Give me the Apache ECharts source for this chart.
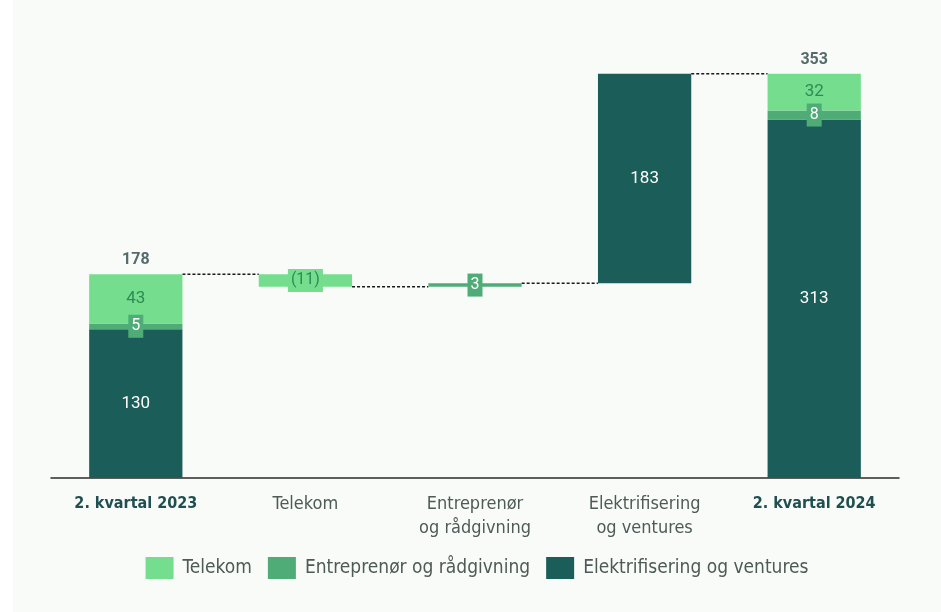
<!DOCTYPE html>
<html>
<head>
<meta charset="utf-8">
<script src="https://cdn.jsdelivr.net/npm/echarts@6/dist/echarts.min.js"></script>
<style>
  html, body { margin: 0; padding: 0; background: #ffffff; }
  #chart { position: absolute; left: 13px; top: 0; width: 928px; height: 612px; background: #f9fbf9; }
</style>
</head>
<body>
<div id="chart"></div>
<script>
const categories = ['2. kvartal 2023', 'Telekom', 'Entreprenør\nog rådgivning', 'Elektrifisering\nog ventures', '2. kvartal 2024'];
const segmentNames = ['Elektrifisering og ventures', 'Entreprenør og rådgivning', 'Telekom'];
// segment values for start and end bars: [elektrifisering, entreprenør, telekom]
const start2023 = [130, 5, 43];
const end2024 = [313, 8, 32];
// changes by segment between the two quarters
const changeTelekom = -11;
const changeEntreprenor = 3;
const changeElektro = 183;

const colDark = '#1b5d59';
const colMid = '#4fac77';
const colLight = '#74de8e';
const font = '"Liberation Sans Narrow", "DejaVu Sans Condensed", sans-serif';
const numFont = 'Roboto, sans-serif';

const total2023 = start2023.reduce((a, b) => a + b, 0);
const total2024 = end2024.reduce((a, b) => a + b, 0);
const lvl1 = total2023 + changeTelekom;
const lvl2 = lvl1 + changeEntreprenor;
const lvl3 = lvl2 + changeElektro;

const base = [0, Math.min(total2023, lvl1), Math.min(lvl1, lvl2), Math.min(lvl2, lvl3), 0];
const darkData = [start2023[0], '-', '-', Math.abs(changeElektro), end2024[0]];
const midData = [start2023[1], '-', Math.abs(changeEntreprenor), '-', end2024[1]];
const lightData = [start2023[2], Math.abs(changeTelekom), '-', '-', end2024[2]];
const connectorLevels = [total2023, lvl1, lvl2, lvl3];

const fmt = v => v < 0 ? '(' + Math.abs(v) + ')' : String(v);
const boxLabel = (bg, color) => ({
  show: true, position: 'inside', backgroundColor: bg, color: color,
  padding: [4, 3, 3, 3], fontSize: 16, fontFamily: numFont
});

const chart = echarts.init(document.getElementById('chart'));
const barW = '55%';

chart.setOption({
  animation: false,
  grid: { left: 38, right: 42, top: 20, bottom: 134 },
  legend: {
    bottom: 28, left: 'center',
    itemWidth: 28, itemHeight: 22, itemGap: 16,
    data: ['Telekom', 'Entreprenør og rådgivning', 'Elektrifisering og ventures'],
    textStyle: { fontFamily: font, fontSize: 19, color: '#4e5a57', padding: [0, 0, 0, 4] },
    icon: 'rect'
  },
  xAxis: {
    type: 'category', data: categories,
    axisLine: { lineStyle: { color: '#2b2b2b', width: 1.5 } },
    axisTick: { show: false },
    axisLabel: {
      interval: 0, margin: 14, fontFamily: font, fontSize: 18, lineHeight: 24, color: '#4e5a57',
      formatter: (v, i) => (i === 0 || i === 4) ? '{b|' + v + '}' : v,
      rich: { b: { fontFamily: font, fontSize: 16, fontWeight: 'bold', color: '#1f4f4e' } }
    }
  },
  yAxis: { type: 'value', min: 0, max: 400, show: false, splitLine: { show: false } },
  series: [
    {
      type: 'bar', stack: 'w', barWidth: barW, data: base,
      itemStyle: { color: 'transparent' }, silent: true
    },
    {
      name: segmentNames[0], type: 'bar', stack: 'w', barWidth: barW, data: darkData,
      itemStyle: { color: colDark },
      label: { show: true, position: 'inside', color: '#ffffff', fontSize: 17, fontFamily: numFont }
    },
    {
      name: segmentNames[1], type: 'bar', stack: 'w', barWidth: barW, data: midData,
      itemStyle: { color: colMid },
      label: boxLabel(colMid, '#ffffff')
    },
    {
      name: segmentNames[2], type: 'bar', stack: 'w', barWidth: barW,
      data: lightData.map((v, i) => i === 1 ? { value: v, label: boxLabel(colLight, '#2f8a55') } : v),
      itemStyle: { color: colLight },
      label: {
        show: true, position: 'inside', color: '#2f8a55', fontSize: 17, fontFamily: numFont,
        formatter: p => p.dataIndex === 1 ? fmt(changeTelekom) : p.value
      }
    },
    {
      type: 'scatter', symbolSize: 0, silent: true,
      data: [[0, total2023], [4, total2024]],
      label: {
        show: true, position: 'top', distance: 6, formatter: p => p.value[1],
        fontFamily: numFont, fontSize: 16, fontWeight: 'bold', color: '#2a4747'
      }
    },
    {
      type: 'custom', silent: true,
      data: connectorLevels.map((v, i) => [i, v]),
      renderItem: (params, api) => {
        const p = api.coord([api.value(0), api.value(1)]);
        const band = api.size([1, 0])[0];
        const half = band * 0.55 / 2;
        return {
          type: 'line',
          shape: { x1: p[0] + half, y1: p[1], x2: p[0] + band - half, y2: p[1] },
          style: { stroke: '#1a1a1a', lineWidth: 1.5, lineDash: [3, 2] }
        };
      }
    }
  ]
});
</script>
</body>
</html>
